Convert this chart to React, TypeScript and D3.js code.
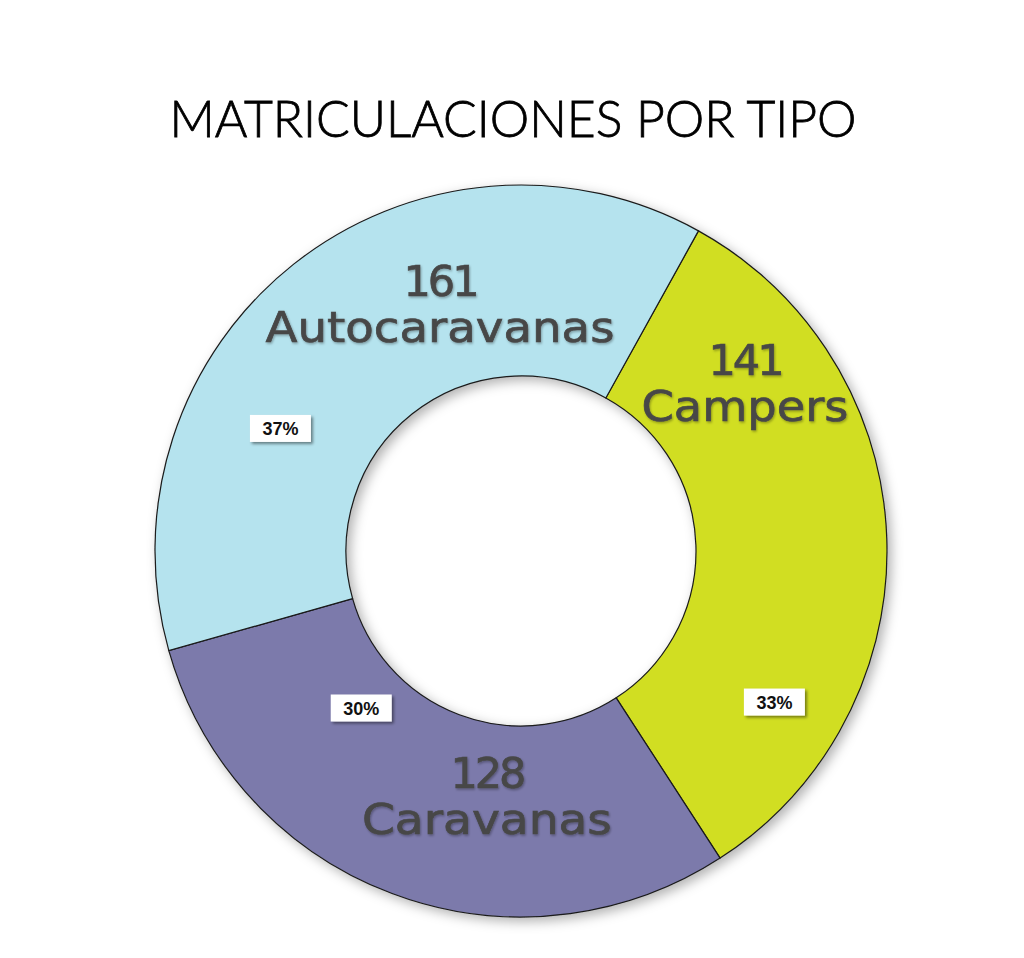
import React, { useEffect, useRef } from 'react';
import * as d3 from 'd3';

const categories = ['Campers', 'Caravanas', 'Autocaravanas'];
const values = [141, 128, 161];
const percentLabels = ['33%', '30%', '37%'];
const title = 'MATRICULACIONES POR TIPO';

const colors = ['#d1de24', '#7b7aab', '#b5e3ee'];

// manual label placement: first baseline, angle clockwise from top + distance from centre
const nameLabelPos = [
  { angle: 51.8, r: 285, width: 207 },
  { angle: 188.2, r: 239, width: 250 },
  { angle: 342.4, r: 268, width: 349 },
];
const pctLabelPos = [
  { angle: 120.8, r: 295 },
  { angle: 225.5, r: 224 },
  { angle: 297, r: 270 },
];

const W = 1024;
const H = 958;

const App: React.FC = () => {
  const svgRef = useRef<SVGSVGElement | null>(null);

  useEffect(() => {
    if (!svgRef.current) return;
    const svg = d3.select(svgRef.current);
    svg.selectAll('*').remove();

    const cx = 521;
    const cy = 551;
    const outer = 366;
    const inner = 175;

    const defs = svg.append('defs');
    const f1 = defs.append('filter').attr('id', 'ringShadow').attr('x', '-20%').attr('y', '-20%').attr('width', '140%').attr('height', '140%');
    f1.append('feDropShadow').attr('dx', 4).attr('dy', 4).attr('stdDeviation', 6).attr('flood-color', '#000').attr('flood-opacity', 0.3);
    const f2 = defs.append('filter').attr('id', 'boxShadow').attr('x', '-30%').attr('y', '-30%').attr('width', '160%').attr('height', '160%');
    f2.append('feDropShadow').attr('dx', 2).attr('dy', 2).attr('stdDeviation', 1.5).attr('flood-color', '#000').attr('flood-opacity', 0.45);
    const f3 = defs.append('filter').attr('id', 'textShadow').attr('x', '-10%').attr('y', '-10%').attr('width', '120%').attr('height', '130%');
    f3.append('feDropShadow').attr('dx', 1).attr('dy', 1.5).attr('stdDeviation', 1).attr('flood-color', '#000').attr('flood-opacity', 0.3);

    svg
      .append('text')
      .attr('x', 513)
      .attr('y', 137)
      .attr('text-anchor', 'middle')
      .attr('font-family', 'Lato, sans-serif')
      .attr('font-weight', 300)
      .attr('font-size', 51)
      .attr('textLength', 687)
      .attr('lengthAdjust', 'spacingAndGlyphs')
      .attr('fill', '#000')
      .attr('stroke', '#000')
      .attr('stroke-width', 0.8)
      .text(title);

    const start = (29 * Math.PI) / 180;
    const pie = d3
      .pie<number>()
      .sort(null)
      .value((d) => d)
      .startAngle(start)
      .endAngle(start + 2 * Math.PI);
    const arcs = pie(values);
    const arc = d3.arc<d3.PieArcDatum<number>>().innerRadius(inner).outerRadius(outer);

    const g = svg.append('g').attr('transform', `translate(${cx},${cy})`);
    const ring = g.append('g').attr('filter', 'url(#ringShadow)');
    ring
      .selectAll('path')
      .data(arcs)
      .enter()
      .append('path')
      .attr('d', arc)
      .attr('fill', (_, i) => colors[i])
      .attr('stroke', '#1a1a1a')
      .attr('stroke-width', 1.2);

    const polar = (deg: number, r: number) => {
      const a = (deg * Math.PI) / 180;
      return [r * Math.sin(a), -r * Math.cos(a)];
    };

    // value + category labels
    arcs.forEach((d, i) => {
      const p = nameLabelPos[i];
      const [x, y] = polar(p.angle, p.r);
      const t = g
        .append('text')
        .attr('text-anchor', 'middle')
        .attr('font-family', '"DejaVu Sans", sans-serif')
        .attr('font-size', 43)
        .attr('fill', '#474747')
        .attr('stroke', '#474747')
        .attr('stroke-width', 0.7)
        .attr('filter', 'url(#textShadow)');
      t.append('tspan').attr('x', x).attr('y', y).attr('letter-spacing', -3).text(String(d.data));
      t.append('tspan')
        .attr('x', x)
        .attr('y', y + 46)
        .attr('textLength', p.width)
        .attr('lengthAdjust', 'spacingAndGlyphs')
        .text(categories[i]);
    });

    // percentage boxes
    arcs.forEach((_, i) => {
      const p = pctLabelPos[i];
      const [x, y] = polar(p.angle, p.r);
      const bw = 61;
      const bh = 27;
      const lg = g.append('g').attr('transform', `translate(${x},${y})`);
      lg.append('rect')
        .attr('x', -bw / 2)
        .attr('y', -bh / 2)
        .attr('width', bw)
        .attr('height', bh)
        .attr('fill', '#fff')
        .attr('filter', 'url(#boxShadow)');
      lg.append('text')
        .attr('text-anchor', 'middle')
        .attr('dy', 6.5)
        .attr('font-family', '"Liberation Sans", Arial, sans-serif')
        .attr('font-weight', 700)
        .attr('font-size', 18)
        .attr('fill', '#111')
        .text(percentLabels[i]);
    });
  }, []);

  return (
    <svg
      ref={svgRef}
      width={W}
      height={H}
      style={{ position: 'absolute', left: 0, top: 0, background: '#fff' }}
    />
  );
};

export default App;
